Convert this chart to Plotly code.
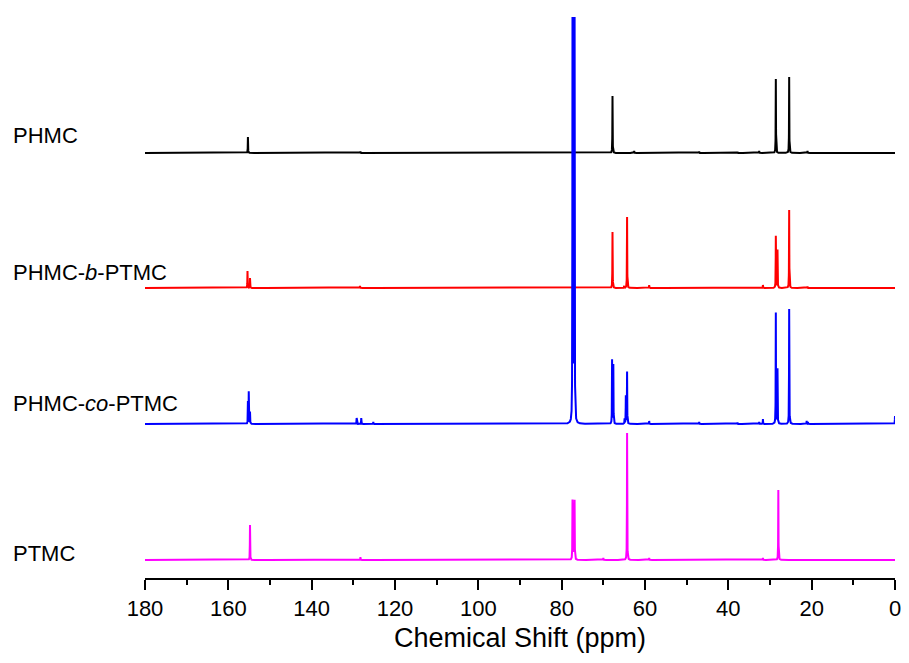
import numpy as np
import plotly.graph_objects as go

# 13C NMR peak lists (ppm, peak height in display units) for each sample
phmc_ppm = [155.3, 128.3, 67.8, 62.6, 47.0, 37.8, 32.6, 28.6, 25.4, 21.0]
phmc_int = [16, 1.5, 57, 2, 1.5, 1, 2, 74, 76, 2]

blk_ppm = [155.4, 154.8, 128.4, 67.8, 65.0, 64.3, 59.0, 31.7, 28.6, 28.2, 25.4, 21.0]
blk_int = [17, 10, 2, 56, 2, 71, 3, 3, 52, 38, 78, 1.5]

co_ppm = [155.3, 155.1, 154.8, 129.2, 128.1, 125.2, 77.4, 77.16, 76.9,
          67.9, 67.6, 64.9, 64.6, 64.3, 59.0, 47.0, 37.8, 32.6, 31.7,
          28.6, 28.2, 25.4, 21.2, 20.9, 0.0]
co_int = [22, 32, 12, 6, 6, 2, 420, 420, 420,
          64, 59, 5, 28, 52, 3, 2, 1.5, 2, 5,
          111, 55, 115, 3, 2, 8]

ptmc_ppm = [154.8, 128.3, 77.4, 77.16, 76.9, 70.0, 64.3, 59.0, 31.7, 28.0]
ptmc_int = [35, 3, 59, 55, 59, 2, 127, 2, 2, 70]

# vertical offsets of the stacked spectra
offsets = {"PHMC": 425, "PHMC-b-PTMC": 290, "PHMC-co-PTMC": 154, "PTMC": 18}
colors = {"PHMC": "#000000", "PHMC-b-PTMC": "#ff0000",
          "PHMC-co-PTMC": "#0000ff", "PTMC": "#ff00ff"}
labels = {"PHMC": "PHMC", "PHMC-b-PTMC": "PHMC-<i>b</i>-PTMC",
          "PHMC-co-PTMC": "PHMC-<i>co</i>-PTMC", "PTMC": "PTMC"}
label_y = {"PHMC": 443, "PHMC-b-PTMC": 306, "PHMC-co-PTMC": 175, "PTMC": 25}

x_ticks = list(range(0, 181, 20))
HWHM = 0.035


def spectrum(ppm, inten):
    grid = np.arange(0, 180.0001, 0.01)
    x = np.unique(np.concatenate([grid, np.array(ppm, dtype=float)]))[::-1]
    y = np.zeros_like(x)
    for p, h in zip(ppm, inten):
        y += h * HWHM**2 / ((x - p) ** 2 + HWHM**2)
    return x, y


series = {
    "PHMC": (phmc_ppm, phmc_int),
    "PHMC-b-PTMC": (blk_ppm, blk_int),
    "PTMC": (ptmc_ppm, ptmc_int),
    "PHMC-co-PTMC": (co_ppm, co_int),
}

fig = go.Figure()
for name, (ppm, inten) in series.items():
    x, y = spectrum(ppm, inten)
    fig.add_trace(go.Scatter(
        x=x, y=y + offsets[name], mode="lines", name=name,
        line=dict(color=colors[name], width=2), showlegend=False,
        hoverinfo="skip",
    ))

for name in ["PHMC", "PHMC-b-PTMC", "PHMC-co-PTMC", "PTMC"]:
    fig.add_annotation(
        x=-0.1786, xref="paper", y=label_y[name], yref="y",
        text=labels[name], showarrow=False, xanchor="left", yanchor="middle",
        font=dict(family="Liberation Sans, Arial", size=22, color="black"),
    )

fig.update_layout(
    width=909, height=663,
    margin=dict(l=145, r=8, t=17, b=85),
    paper_bgcolor="white", plot_bgcolor="white",
    font=dict(family="Liberation Sans, Arial", color="black"),
    xaxis=dict(
        range=[180, 0], tickmode="array", tickvals=x_ticks,
        ticks="outside", ticklen=10, tickwidth=2, tickcolor="black",
        showline=True, linewidth=2, linecolor="black",
        showgrid=False, zeroline=False,
        tickfont=dict(size=22, family="Liberation Sans, Arial"),
        minor=dict(dtick=10, tick0=0, ticks="outside", ticklen=5,
                   tickwidth=2, tickcolor="black", showgrid=False),
        title=dict(text="Chemical Shift (ppm)",
                   font=dict(size=27, family="Liberation Sans, Arial"),
                   standoff=8),
    ),
    yaxis=dict(range=[0, 561], visible=False, showgrid=False, zeroline=False),
)

fig.write_html("out.html")
